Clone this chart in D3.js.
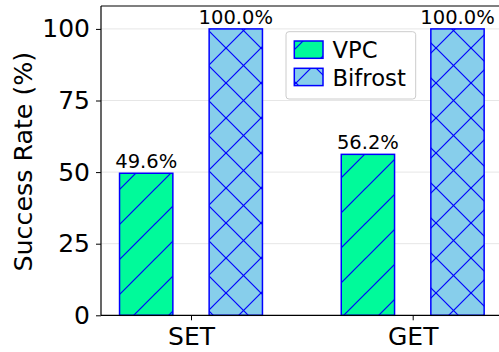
<!DOCTYPE html>
<html>
<head>
<meta charset="utf-8">
<script src="https://cdn.jsdelivr.net/npm/d3@7"></script>
<style>
  html, body { margin: 0; padding: 0; background: #fff; }
  svg { display: block; font-family: "DejaVu Sans", sans-serif; }
</style>
</head>
<body>
<svg id="chart" width="499" height="352"></svg>
<script>
const categories = ["SET", "GET"];
const series = ["VPC", "Bifrost"];
const vpcValues = [49.6, 56.2];
const bifrostValues = [100.0, 100.0];
const yTicks = [0, 25, 50, 75, 100];
const valueLabels = [["49.6%", "56.2%"], ["100.0%", "100.0%"]];

(function () {
const svg = d3.select("#chart");
const mLeft = 101, mTop = 6, mBottom = 315.3, mRight = 503;

const y = d3.scaleLinear().domain([0, 108]).range([mBottom, mTop]);
const x0 = d3.scalePoint().domain(categories).range([191, 412.7]);
const x1 = d3.scaleBand().domain(series).range([-71.45, 71.45]).paddingInner(0.405).paddingOuter(0);

// hatch patterns
const defs = svg.append("defs");
const T = 35;
function makePattern(id, fill, cross) {
  const p = defs.append("pattern").attr("id", id)
    .attr("patternUnits", "userSpaceOnUse")
    .attr("width", T).attr("height", T)
    .attr("patternTransform", "translate(16,13)");
  p.append("rect").attr("width", T).attr("height", T).attr("fill", fill);
  const segs = [[0, T, T, 0], [-5, 5, 5, -5], [T - 5, T + 5, T + 5, T - 5]];
  if (cross) segs.push([0, 0, T, T], [-5, T - 5, 5, T + 5], [T - 5, -5, T + 5, 5]);
  segs.forEach(s => p.append("line")
    .attr("x1", s[0]).attr("y1", s[1]).attr("x2", s[2]).attr("y2", s[3])
    .attr("stroke", "#0000ff").attr("stroke-width", 1.2));
}
makePattern("hVPC", "#00fa9a", false);
makePattern("hBif", "#87ceeb", true);
const fills = { VPC: "url(#hVPC)", Bifrost: "url(#hBif)" };

// grid
svg.append("g").selectAll("line").data(yTicks.filter(d => d > 0)).join("line")
  .attr("x1", mLeft).attr("x2", mRight)
  .attr("y1", d => y(d)).attr("y2", d => y(d))
  .attr("stroke", "#e6e6e6").attr("stroke-width", 1);

// bars
const data = [];
categories.forEach((c, i) => {
  data.push({ cat: c, s: "VPC", v: vpcValues[i], label: valueLabels[0][i] });
  data.push({ cat: c, s: "Bifrost", v: bifrostValues[i], label: valueLabels[1][i] });
});
svg.append("g").selectAll("rect").data(data).join("rect")
  .attr("x", d => x0(d.cat) + x1(d.s))
  .attr("y", d => y(d.v))
  .attr("width", x1.bandwidth())
  .attr("height", d => y(0) - y(d.v))
  .attr("fill", d => fills[d.s])
  .attr("stroke", "#0000ff").attr("stroke-width", 1.5);

svg.append("g").selectAll("text").data(data).join("text")
  .attr("x", d => x0(d.cat) + x1(d.s) + x1.bandwidth() / 2)
  .attr("y", d => y(d.v) - 5)
  .attr("text-anchor", "middle")
  .attr("font-size", 19.5)
  .attr("fill", "#000")
  .text(d => d.label);

// spines
svg.append("line").attr("x1", mLeft).attr("x2", mRight).attr("y1", mTop).attr("y2", mTop).attr("stroke", "#000").attr("stroke-width", 1.2);
svg.append("line").attr("x1", mLeft).attr("x2", mRight).attr("y1", mBottom).attr("y2", mBottom).attr("stroke", "#000").attr("stroke-width", 1.2);
svg.append("line").attr("x1", mLeft).attr("x2", mLeft).attr("y1", mTop).attr("y2", mBottom).attr("stroke", "#000").attr("stroke-width", 1.2);

// axes
const yAxis = svg.append("g").attr("transform", `translate(${mLeft},0)`)
  .call(d3.axisLeft(y).tickValues(yTicks).tickSize(5).tickPadding(6));
yAxis.select(".domain").remove();
yAxis.selectAll("text").attr("font-size", 25).attr("font-family", "DejaVu Sans").attr("fill", "#000");
yAxis.selectAll("line").attr("stroke", "#000");

const xAxis = svg.append("g").attr("transform", `translate(0,${mBottom})`)
  .call(d3.axisBottom(x0).tickSize(5).tickPadding(7));
xAxis.select(".domain").remove();
xAxis.selectAll("text").attr("font-size", 25).attr("font-family", "DejaVu Sans").attr("fill", "#000");
xAxis.selectAll("line").attr("stroke", "#000");

// y label
svg.append("text")
  .attr("transform", `translate(31.5,${(mTop + mBottom) / 2 + 1}) rotate(-90)`)
  .attr("text-anchor", "middle")
  .attr("font-size", 25.3)
  .attr("fill", "#000")
  .text("Success Rate (%)");

// legend
const lg = svg.append("g");
lg.append("rect").attr("x", 286).attr("y", 31.7).attr("width", 129.7).attr("height", 67.3)
  .attr("rx", 3).attr("fill", "#fff").attr("fill-opacity", 0.8)
  .attr("stroke", "#cccccc").attr("stroke-width", 1);
series.forEach((s, i) => {
  const yy = 41 + i * 27.3;
  lg.append("rect").attr("x", 294.3).attr("y", yy).attr("width", 28.7).attr("height", 17.3)
    .attr("fill", fills[s]).attr("stroke", "#0000ff").attr("stroke-width", 1.5);
  lg.append("text").attr("x", 332.5).attr("y", yy + 17.3)
    .attr("font-size", 22.7).attr("fill", "#000").text(s);
});
})();
</script>
</body>
</html>
